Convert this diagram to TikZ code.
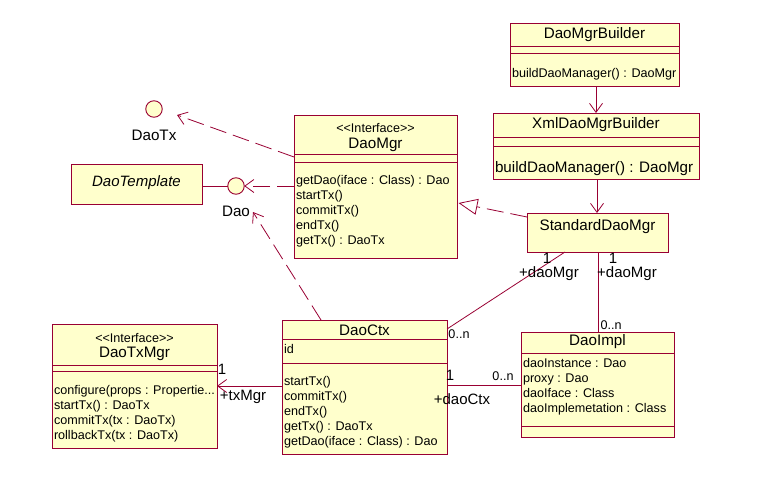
\documentclass[tikz,border=0pt]{standalone}
\usepackage{fontspec}
\setmainfont{Liberation Sans}
\usetikzlibrary{arrows.meta}
\definecolor{umlline}{RGB}{153,0,51}
\definecolor{umlfill}{RGB}{255,255,204}
\tikzset{
  every node/.style={inner sep=0pt, outer sep=0pt},
  classbox/.style={draw=umlline, fill=umlfill, line width=0.9pt, anchor=north west},
  sepline/.style={draw=umlline, line width=0.9pt},
  bigtxt/.style={font=\fontsize{15.2}{17}\selectfont},
  smalltxt/.style={font=\fontsize{12.6}{14}\selectfont, anchor=base west},
  conn/.style={draw=umlline, line width=0.8pt},
  dep/.style={conn, dash pattern=on 17pt off 7pt, -{Straight Barb[length=9pt,width=13pt,line width=0.8pt]}},
  nav/.style={conn, -{Straight Barb[length=9pt,width=13pt,line width=0.8pt]}},
  real/.style={conn, dash pattern=on 17pt off 7pt, -{Triangle[open,length=19pt,width=16pt,line width=0.8pt]}},
  lollipop/.style={circle, draw=umlline, fill=umlfill, line width=0.9pt, minimum size=16.5pt},
  mult/.style={font=\fontsize{12.6}{14}\selectfont},
  role/.style={font=\fontsize{15}{17}\selectfont},
}
\begin{document}
\begin{tikzpicture}[x=1pt,y=-1pt]
\useasboundingbox (0,0) rectangle (757,479);
\fill[white] (0,0) rectangle (757,479);

% DaoMgrBuilder
\node[classbox, minimum width=169pt, minimum height=63pt] (dmb) at (510,23) {};
\draw[sepline] (510,46) -- (679,46) (510,53) -- (679,53);
\node[bigtxt] (dmbname) at (594.5,35) {DaoMgrBuilder};
\node[smalltxt] (dmbm) at (512,77.5) {buildDaoManager() : DaoMgr};

% XmlDaoMgrBuilder
\node[classbox, minimum width=206pt, minimum height=66pt] (xdmb) at (493,113) {};
\draw[sepline] (493,137) -- (699,137) (493,146) -- (699,146);
\node[bigtxt] (xdmbname) at (596,125) {XmlDaoMgrBuilder};
\node[bigtxt, anchor=base west] (xdmbm) at (495,172) {buildDaoManager() : DaoMgr};

% DaoMgr
\node[classbox, minimum width=163pt, minimum height=143pt] (dm) at (294,115) {};
\draw[sepline] (294,154) -- (457,154) (294,162) -- (457,162);
\node[font=\fontsize{12.6}{14}\selectfont] (dmst) at (375.5,128) {<{}<Interface>{}>};
\node[bigtxt] (dmname) at (375.5,145) {DaoMgr};
\node[smalltxt] (dm1) at (296,184.5) {getDao(iface : Class) : Dao};
\node[smalltxt] (dm2) at (296,199.5) {startTx()};
\node[smalltxt] (dm3) at (296,214.5) {commitTx()};
\node[smalltxt] (dm4) at (296,229.5) {endTx()};
\node[smalltxt] (dm5) at (296,244.5) {getTx() : DaoTx};

% StandardDaoMgr
\node[classbox, minimum width=141pt, minimum height=39pt] (sdm) at (527,213) {};
\node[bigtxt] (sdmname) at (597.5,227) {StandardDaoMgr};

% DaoTemplate
\node[classbox, minimum width=131pt, minimum height=40pt] (dt) at (71,164) {};
\node[font=\fontsize{15}{17}\selectfont\itshape] (dtname) at (136.5,183) {DaoTemplate};

% Lollipops
\node[lollipop] (daotx) at (154,109) {};
\node[bigtxt] (daotxl) at (154,135) {DaoTx};
\node[lollipop] (dao) at (236,186) {};
\node[bigtxt] (daol) at (236,211) {Dao};

% DaoTxMgr
\node[classbox, minimum width=165pt, minimum height=124pt] (dtm) at (52,324) {};
\draw[sepline] (52,365) -- (217,365) (52,371) -- (217,371);
\node[font=\fontsize{12.6}{14}\selectfont] (dtmst) at (134.5,338) {<{}<Interface>{}>};
\node[bigtxt] (dtmname) at (134.5,354) {DaoTxMgr};
\node[smalltxt] (dtm1) at (54,394.5) {configure(props : Propertie...};
\node[smalltxt] (dtm2) at (54,409.5) {startTx() : DaoTx};
\node[smalltxt] (dtm3) at (54,424.5) {commitTx(tx : DaoTx)};
\node[smalltxt] (dtm4) at (54,439.5) {rollbackTx(tx : DaoTx)};

% DaoCtx
\node[classbox, minimum width=165pt, minimum height=134pt] (dc) at (282,320) {};
\draw[sepline] (282,339) -- (447,339) (282,363) -- (447,363);
\node[bigtxt] (dcname) at (364.5,330) {DaoCtx};
\node[smalltxt] (dcid) at (284,353.5) {id};
\node[smalltxt] (dc1) at (284,385.5) {startTx()};
\node[smalltxt] (dc2) at (284,400.5) {commitTx()};
\node[smalltxt] (dc3) at (284,415.5) {endTx()};
\node[smalltxt] (dc4) at (284,430.5) {getTx() : DaoTx};
\node[smalltxt] (dc5) at (284,445.5) {getDao(iface : Class) : Dao};

% DaoImpl
\node[classbox, minimum width=153pt, minimum height=105pt] (di) at (521,332) {};
\draw[sepline] (521,353) -- (674,353) (521,426) -- (674,426);
\node[bigtxt] (diname) at (597.5,342) {DaoImpl};
\node[smalltxt] (di1) at (523,367.5) {daoInstance : Dao};
\node[smalltxt] (di2) at (523,382.5) {proxy : Dao};
\node[smalltxt] (di3) at (523,397.5) {daoIface : Class};
\node[smalltxt] (di4) at (523,412.5) {daoImplemetation : Class};

% Coordinates for connector ends
\coordinate (dtE) at (202,186);
\coordinate (dmW1) at (294,186);
\coordinate (dmW2) at (294,157);
\coordinate (daotxTip) at (177,115);
\coordinate (dcTop) at (321,320);
\coordinate (daoTip) at (253,212);
\coordinate (sdmW) at (527,217);
\coordinate (dmE) at (458.5,203);
\coordinate (dmbB) at (596,86);
\coordinate (xdmbT) at (596,113);
\coordinate (xdmbB) at (597,179);
\coordinate (sdmT) at (597,213);
\coordinate (sdmB1) at (565,252);
\coordinate (dcE1) at (447,329);
\coordinate (sdmB2) at (598,252);
\coordinate (diT) at (598,332);
\coordinate (dcE2) at (447,385);
\coordinate (diW) at (521,385);
\coordinate (dcW) at (282,386);
\coordinate (dtmE) at (217,386);

% Connectors
\draw[conn] (dtE) -- (dao.west);
\draw[dep] (dmW1) -- (dao.east);
\draw[dep] (dmW2) -- (daotxTip);
\draw[dep] (dcTop) -- (daoTip);
\draw[real] (sdmW) -- (dmE);
\draw[nav] (dmbB) -- (xdmbT);
\draw[nav] (xdmbB) -- (sdmT);
\draw[conn] (sdmB1) -- (dcE1);
\draw[conn] (sdmB2) -- (diT);
\draw[conn] (dcE2) -- (diW);
\draw[nav] (dcW) -- (dtmE);

% Labels
\node[role] (l1a) at (547,258) {1};
\node[role] (l1b) at (549,274) {+daoMgr};
\node[mult] (l1c) at (459,334) {0..n};
\node[role] (l2a) at (613,258) {1};
\node[role] (l2b) at (627,274) {+daoMgr};
\node[mult] (l2c) at (611,325) {0..n};
\node[role] (l3a) at (450,375) {1};
\node[mult] (l3b) at (503,376) {0..n};
\node[role] (l3c) at (462,399) {+daoCtx};
\node[role] (l4a) at (222,369) {1};
\node[role] (l4b) at (243,397) {+txMgr};
\end{tikzpicture}
\end{document}
